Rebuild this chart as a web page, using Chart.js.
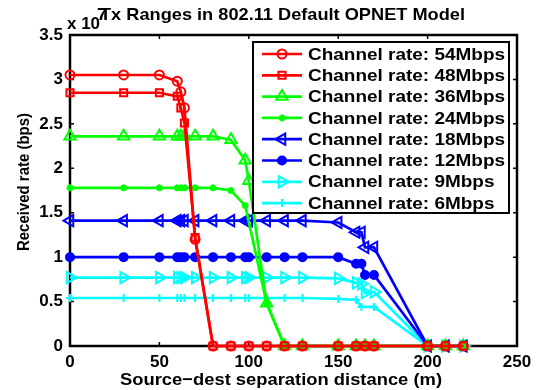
<!DOCTYPE html>
<html>
<head>
<meta charset="utf-8">
<script src="https://cdn.jsdelivr.net/npm/chart.js@4/dist/chart.umd.min.js"></script>
<style>
html, body { margin: 0; padding: 0; background: #fff; }
#wrap { width: 545px; height: 390px; }
</style>
</head>
<body>
<div id="wrap"><canvas id="rangeChart" width="545" height="390"></canvas></div>
<script>
// separation distances (m) where the runs were sampled
const distances = [0, 30, 50, 60, 62, 64, 70, 80, 90, 98, 100, 110, 120, 130, 150, 160, 163, 165, 170, 200, 210, 220];

// received rate, units of 1e7 bps (null = no sample at that distance)
const rate54 = [3.05, 3.05, 3.05, 2.98, 2.86, 2.68, 1.20, 0, 0, null, 0, 0, 0, 0, 0, 0, null, 0, 0, 0, 0, 0];
const rate48 = [2.85, 2.85, 2.85, 2.81, 2.68, 2.51, 1.22, 0, 0, null, 0, 0, 0, 0, 0, 0, null, 0, 0, 0, 0, 0];
const rate36 = [2.36, 2.36, 2.36, 2.36, 2.36, 2.36, 2.36, 2.36, 2.32, 2.09, 1.86, 0.48, 0, 0, 0, 0, null, 0, 0, 0, 0, 0];
const rate24 = [1.78, 1.78, 1.78, 1.78, 1.78, 1.78, 1.78, 1.78, 1.75, 1.58, null, 0.48, 0, 0, 0, 0, null, 0, 0, 0, 0, 0];
const rate18 = [1.41, 1.41, 1.41, 1.41, 1.41, 1.41, 1.41, 1.41, 1.41, 1.41, 1.41, 1.41, 1.41, 1.41, 1.39, 1.28, 1.28, 1.11, 1.11, 0, 0, 0];
const rate12 = [1.00, 1.00, 1.00, 1.00, 1.00, 1.00, 1.00, 1.00, 1.00, 1.00, 1.00, 1.00, 1.00, 1.00, 1.00, 0.925, 0.925, 0.80, 0.80, 0, 0, 0];
const rate9 = [0.77, 0.77, 0.77, 0.77, 0.77, 0.77, 0.77, 0.77, 0.77, 0.77, 0.77, 0.77, 0.77, 0.77, 0.76, 0.71, 0.70, 0.60, 0.61, 0, 0, 0];
const rate6 = [0.54, 0.54, 0.54, 0.54, 0.54, 0.54, 0.54, 0.54, 0.54, 0.54, 0.54, 0.54, 0.54, 0.54, 0.53, 0.52, 0.44, null, 0.44, 0, 0, 0];

const seriesLabels = ["Channel rate: 54Mbps", "Channel rate: 48Mbps", "Channel rate: 36Mbps", "Channel rate: 24Mbps",
    "Channel rate: 18Mbps", "Channel rate: 12Mbps", "Channel rate: 9Mbps", "Channel rate: 6Mbps"];
const seriesRates = [rate54, rate48, rate36, rate24, rate18, rate12, rate9, rate6];

const xTicks = [0, 50, 100, 150, 200, 250];
const yTicks = [0, 0.5, 1, 1.5, 2, 2.5, 3, 3.5];

const RED = "#ff0000", GREEN = "#00ff00", BLUE = "#0000ff", CYAN = "#00ffff";
const markerStyles = [
    { color: RED, pointStyle: "circle", radius: 4.5, rotation: 0, fill: false },
    { color: RED, pointStyle: "rect", radius: 5, rotation: 0, fill: false },
    { color: GREEN, pointStyle: "triangle", radius: 6.5, rotation: 0, fill: false },
    { color: GREEN, pointStyle: "star", radius: 3.5, rotation: 0, fill: false },
    { color: BLUE, pointStyle: "triangle", radius: 6.5, rotation: -90, fill: false },
    { color: BLUE, pointStyle: "circle", radius: 4, rotation: 0, fill: true },
    { color: CYAN, pointStyle: "triangle", radius: 6.5, rotation: 90, fill: false },
    { color: CYAN, pointStyle: "cross", radius: 4, rotation: 0, fill: false }
];

const FONT = "Arial, 'Liberation Sans', sans-serif";

const datasets = seriesLabels.map((label, i) => {
    const m = markerStyles[i];
    return {
        label: label,
        data: distances.map((d, k) => ({ x: d, y: seriesRates[i][k] })).filter(p => p.y !== null),
        borderColor: m.color,
        backgroundColor: m.color,
        borderWidth: 2.7,
        pointStyle: m.pointStyle,
        pointRadius: m.radius,
        pointRotation: m.rotation,
        pointBorderWidth: 2,
        pointBackgroundColor: m.fill ? m.color : "rgba(0,0,0,0)",
        pointBorderColor: m.color,
        tension: 0,
        clip: false
    };
});

// draw text stretched horizontally so it covers `width` px (matlab's bold is wide)
function fitText(ctx, text, x, y, width, align) {
    const w = ctx.measureText(text).width;
    const k = width / w;
    ctx.save();
    ctx.translate(x, y);
    ctx.scale(k, 1);
    ctx.textAlign = align;
    ctx.fillText(text, 0, 0);
    ctx.restore();
}

const axesBox = {
    id: "axesBox",
    beforeDatasetsDraw(chart) {
        const { ctx, chartArea: a, scales } = chart;
        ctx.save();
        ctx.strokeStyle = "#000";
        ctx.lineWidth = 2.5;
        ctx.strokeRect(a.left, a.top, a.right - a.left, a.bottom - a.top);
        ctx.lineWidth = 1.5;
        const len = 4;
        xTicks.forEach(v => {
            const x = scales.x.getPixelForValue(v);
            ctx.beginPath();
            ctx.moveTo(x, a.bottom); ctx.lineTo(x, a.bottom - len);
            ctx.moveTo(x, a.top); ctx.lineTo(x, a.top + len);
            ctx.stroke();
        });
        yTicks.forEach(v => {
            const y = scales.y.getPixelForValue(v);
            ctx.beginPath();
            ctx.moveTo(a.left, y); ctx.lineTo(a.left + len, y);
            ctx.moveTo(a.right, y); ctx.lineTo(a.right - len, y);
            ctx.stroke();
        });
        ctx.restore();
    },
    afterDatasetsDraw(chart) {
        const ctx = chart.ctx;
        ctx.save();
        // legend box
        const bx = 253, by = 42, bw = 256, bh = 171;
        ctx.fillStyle = "#fff";
        ctx.fillRect(bx, by, bw, bh);
        ctx.strokeStyle = "#000";
        ctx.lineWidth = 2;
        ctx.strokeRect(bx, by, bw, bh);
        ctx.font = "bold 17px " + FONT;
        ctx.textBaseline = "middle";
        const stretch = 197 / ctx.measureText(seriesLabels[0]).width;
        seriesLabels.forEach((label, i) => {
            const m = markerStyles[i];
            const y = 54 + i * 21.3;
            ctx.strokeStyle = m.color;
            ctx.lineWidth = 2.7;
            ctx.beginPath();
            ctx.moveTo(262, y); ctx.lineTo(302, y);
            ctx.stroke();
            ctx.fillStyle = m.fill ? m.color : "rgba(0,0,0,0)";
            ctx.lineWidth = 2;
            Chart.helpers.drawPoint(ctx, { pointStyle: m.pointStyle, rotation: m.rotation, radius: m.radius, borderWidth: 2 }, 282, y);
            ctx.fillStyle = "#000";
            fitText(ctx, label, 308, y + 1, ctx.measureText(label).width * stretch, "left");
        });
        ctx.restore();
    },
    afterDraw(chart) {
        const ctx = chart.ctx;
        ctx.save();
        ctx.fillStyle = "#000";
        ctx.textBaseline = "middle";
        ctx.font = "bold 17px " + FONT;
        fitText(ctx, "x 10", 67, 24, 33, "left");
        fitText(ctx, "7", 97, 15, 10, "left");
        fitText(ctx, "Tx Ranges in 802.11 Default OPNET Model", 282.5, 15, 365, "center");
        fitText(ctx, "Source\u2212dest separation distance (m)", 281, 380, 322, "center");
        ctx.translate(25, 182);
        ctx.rotate(-Math.PI / 2);
        ctx.font = "bold 16px " + FONT;
        fitText(ctx, "Received rate (bps)", 0, 0, 138, "center");
        ctx.restore();
    }
};

new Chart(document.getElementById("rangeChart"), {
    type: "line",
    data: { datasets: datasets },
    options: {
        responsive: false,
        animation: false,
        devicePixelRatio: 1,
        spanGaps: true,
        layout: { padding: { top: 35, right: 28, left: 0, bottom: 0 } },
        plugins: { legend: { display: false }, title: { display: false }, tooltip: { enabled: false } },
        scales: {
            x: {
                type: "linear",
                min: 0, max: 250,
                afterBuildTicks: s => { s.ticks = xTicks.map(v => ({ value: v })); },
                afterFit: s => { s.height = 44; },
                grid: { display: false, drawTicks: false },
                border: { display: false },
                ticks: { color: "#000", padding: 6, maxRotation: 0, font: { family: FONT, size: 17, weight: "bold" } }
            },
            y: {
                type: "linear",
                min: 0, max: 3.5,
                afterBuildTicks: s => { s.ticks = yTicks.map(v => ({ value: v })); },
                afterFit: s => { s.width = 70; },
                grid: { display: false, drawTicks: false },
                border: { display: false },
                ticks: {
                    color: "#000", padding: 7, font: { family: FONT, size: 17, weight: "bold" },
                    callback: v => String(v)
                }
            }
        }
    },
    plugins: [axesBox]
});
</script>
</body>
</html>
